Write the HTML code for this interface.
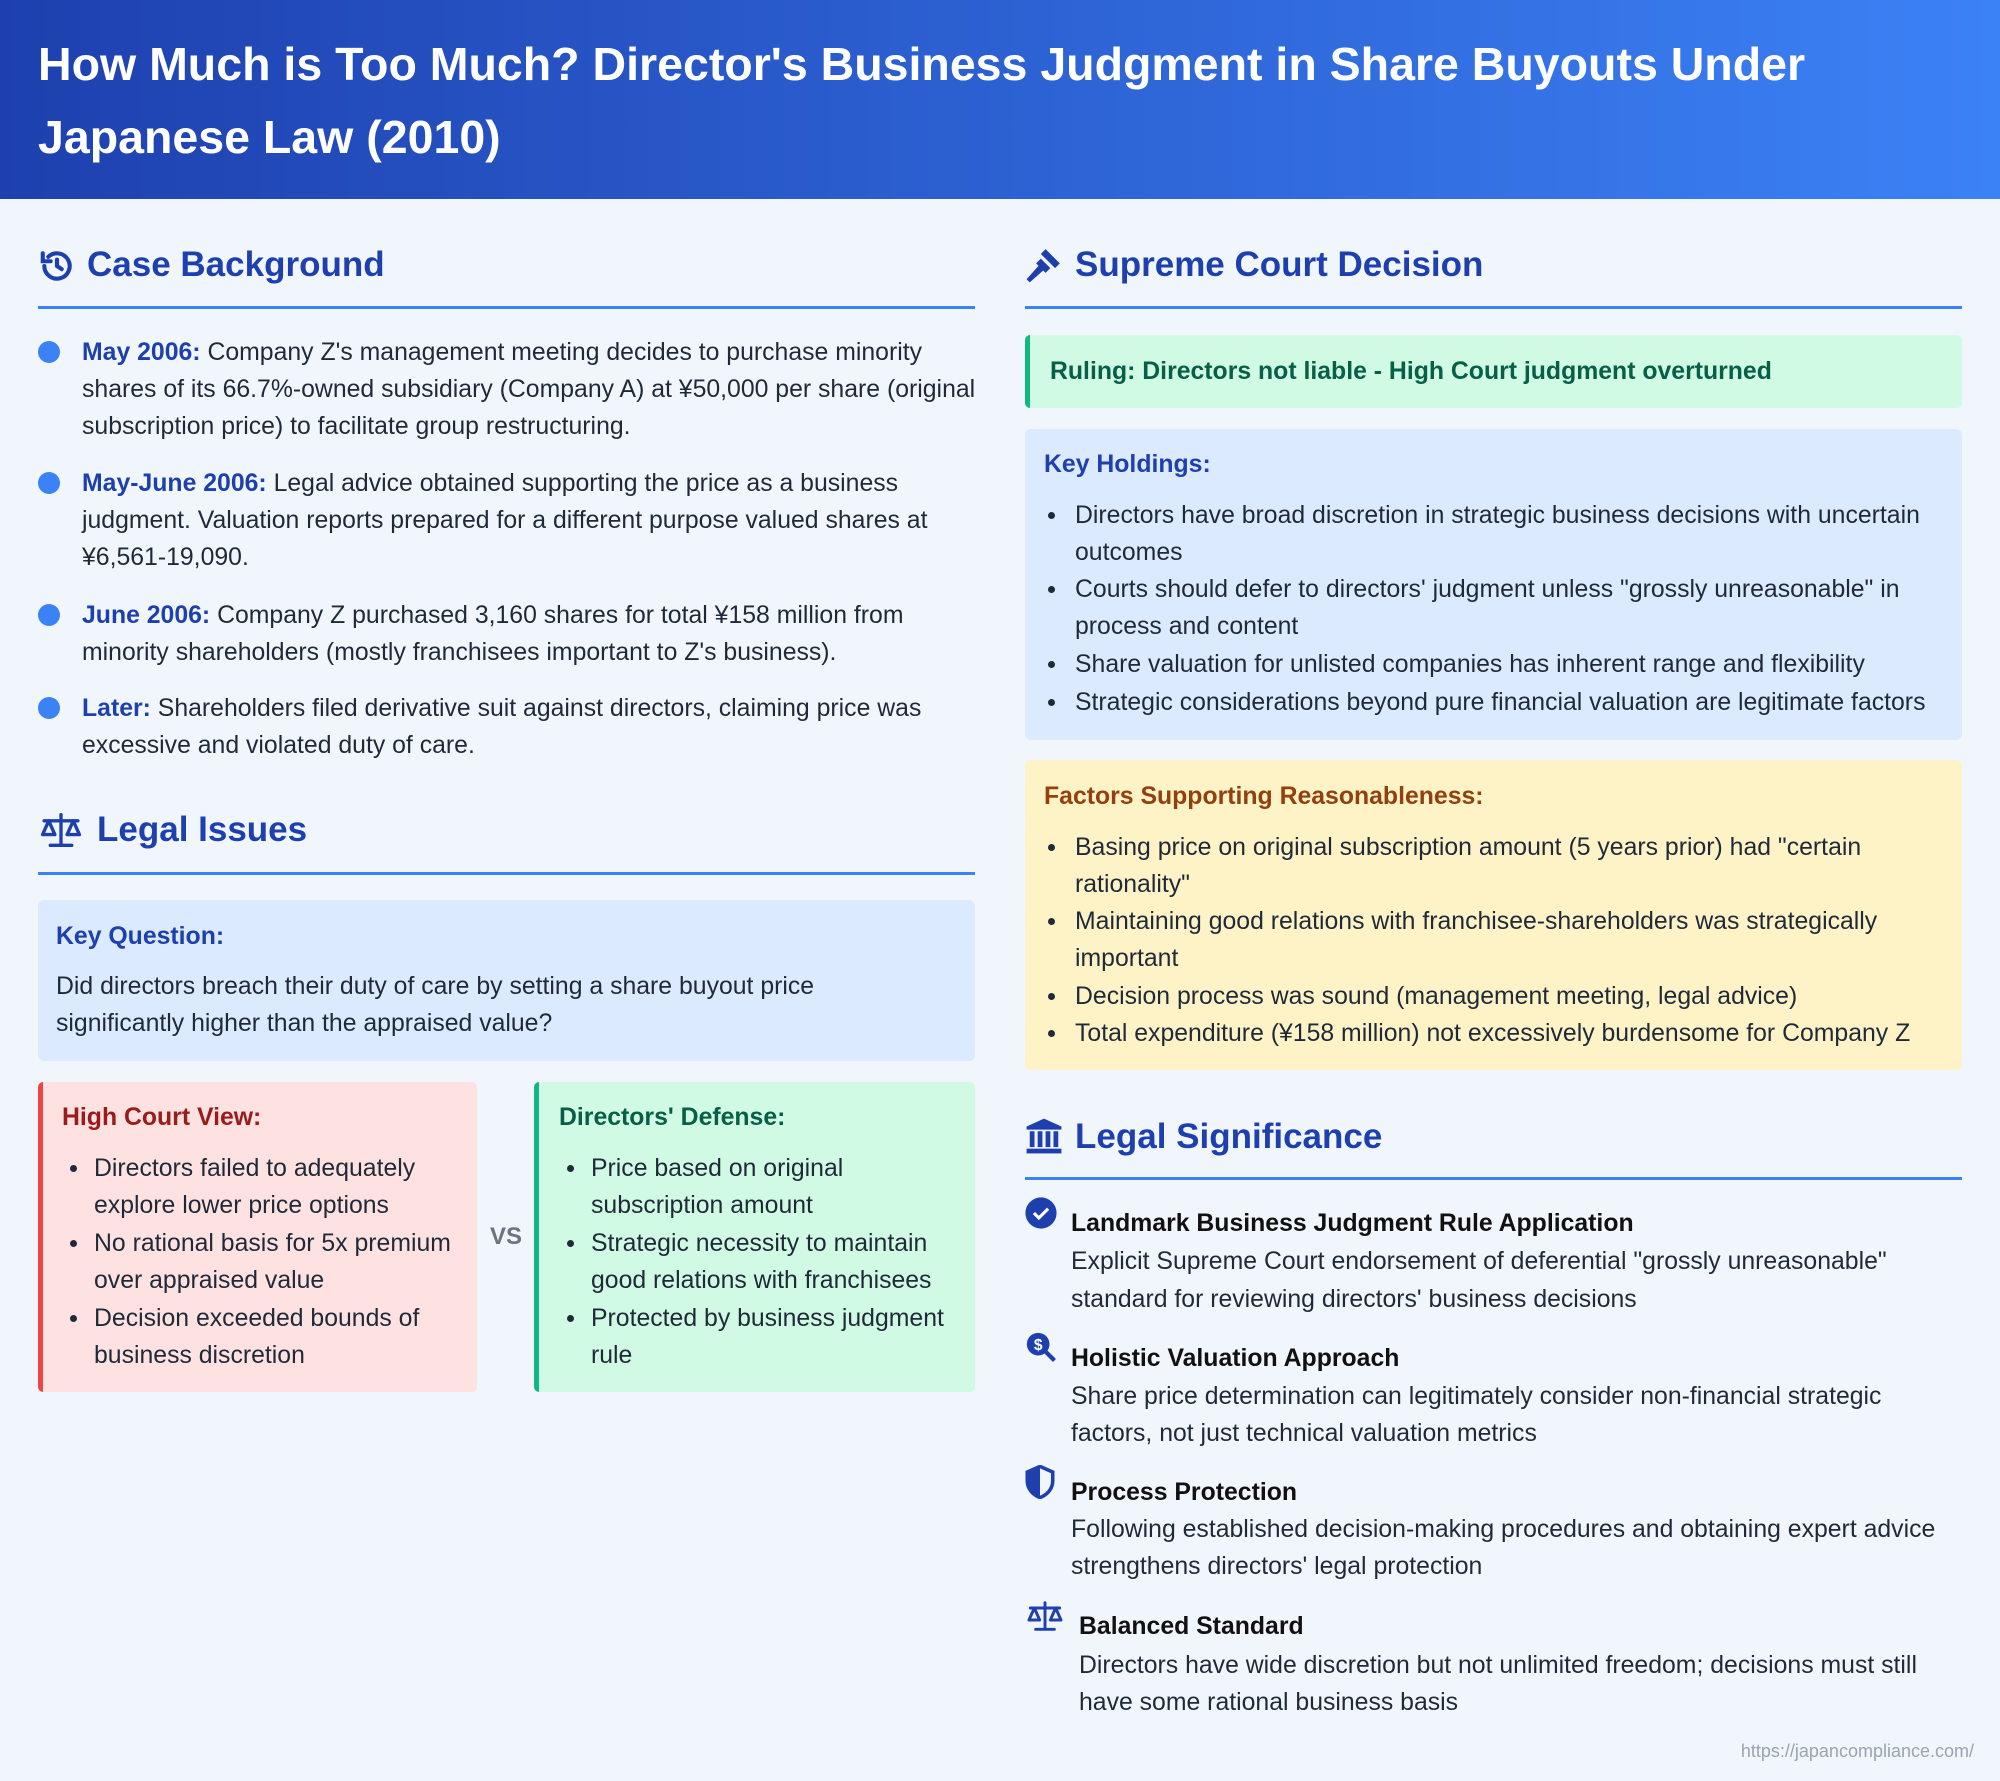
<!DOCTYPE html>
<html><head><meta charset="utf-8"><style>
*{margin:0;padding:0;box-sizing:border-box}
body{width:2000px;height:1781px;position:relative;background:#f0f6fc;font-family:"Liberation Sans",sans-serif;overflow:hidden;color:#1f2937}
.a{position:absolute}
.t{position:absolute;white-space:nowrap;line-height:37px;font-size:24.8px;color:#1f2937}
.h{position:absolute;white-space:nowrap;font-size:35px;font-weight:bold;color:#1e40af;line-height:44px}
.rule{position:absolute;height:3px;background:#3b82f6}
.b{font-weight:bold;color:#1e40af}
.dot{position:absolute;width:22px;height:22px;border-radius:50%;background:#3b82f6}
.li{position:absolute;width:7px;height:7px;border-radius:50%;background:#1f2937}
</style></head><body>
<div class="a" style="left:0;top:0;width:2000px;height:199px;background:linear-gradient(90deg,#1e40af,#3b82f6)"></div>
<div class="a" style="left:38px;top:28px;color:#fff;font-size:46.5px;font-weight:bold;line-height:73px;white-space:nowrap">How Much is Too Much? Director's Business Judgment in Share Buyouts Under<br>Japanese Law (2010)</div>

<!-- Case Background -->
<svg class="a" style="left:38px;top:247px" width="38" height="38" viewBox="0 0 24 24" fill="none" stroke="#1e40af" stroke-width="2.6" stroke-linecap="round"><path d="M4 12a8 8 0 1 0 2.5-5.8"/><path d="M3 4v5h5"/><path d="M12 8v4l3 2"/></svg>
<div class="h" style="left:87px;top:243px">Case Background</div>
<div class="rule" style="left:38px;top:306px;width:937px"></div>

<div class="dot" style="left:38px;top:341px"></div>
<div class="t" style="left:82px;top:334px"><span class="b">May 2006:</span> Company Z's management meeting decides to purchase minority</div>
<div class="t" style="left:82px;top:371px">shares of its 66.7%-owned subsidiary (Company A) at ¥50,000 per share (original</div>
<div class="t" style="left:82px;top:408px">subscription price) to facilitate group restructuring.</div>
<div class="dot" style="left:38px;top:472px"></div>
<div class="t" style="left:82px;top:465px"><span class="b">May-June 2006:</span> Legal advice obtained supporting the price as a business</div>
<div class="t" style="left:82px;top:502px">judgment. Valuation reports prepared for a different purpose valued shares at</div>
<div class="t" style="left:82px;top:539px">¥6,561-19,090.</div>
<div class="dot" style="left:38px;top:604px"></div>
<div class="t" style="left:82px;top:597px"><span class="b">June 2006:</span> Company Z purchased 3,160 shares for total ¥158 million from</div>
<div class="t" style="left:82px;top:634px">minority shareholders (mostly franchisees important to Z's business).</div>
<div class="dot" style="left:38px;top:697px"></div>
<div class="t" style="left:82px;top:690px"><span class="b">Later:</span> Shareholders filed derivative suit against directors, claiming price was</div>
<div class="t" style="left:82px;top:727px">excessive and violated duty of care.</div>

<!-- Legal Issues -->
<svg class="a" style="left:38px;top:811px" width="46" height="38" viewBox="0 0 30 24" fill="none" stroke="#1e40af" stroke-width="2.2" stroke-linecap="round" stroke-linejoin="round"><path d="M15 2v20M8 22h14M4 6h22"/><path d="M7 6l-4 9h8z M23 6l-4 9h8z"/></svg>
<div class="h" style="left:97px;top:808px">Legal Issues</div>
<div class="rule" style="left:38px;top:872px;width:937px"></div>

<div class="a" style="left:38px;top:900px;width:937px;height:161px;background:#dbeafe;border-radius:6px"></div>
<div class="t" style="left:56px;top:918px;font-weight:bold;color:#1e40af">Key Question:</div>
<div class="t" style="left:56px;top:968px">Did directors breach their duty of care by setting a share buyout price</div>
<div class="t" style="left:56px;top:1005px">significantly higher than the appraised value?</div>

<div class="a" style="left:38px;top:1082px;width:439px;height:310px;background:#fee2e2;border-left:5px solid #ef4444;border-radius:5px"></div>
<div class="t" style="left:62px;top:1099px;font-weight:bold;color:#991b1b">High Court View:</div>
<div class="li" style="left:70px;top:1165px"></div><div class="t" style="left:94px;top:1150px">Directors failed to adequately</div>
<div class="t" style="left:94px;top:1187px">explore lower price options</div>
<div class="li" style="left:70px;top:1240px"></div><div class="t" style="left:94px;top:1225px">No rational basis for 5x premium</div>
<div class="t" style="left:94px;top:1262px">over appraised value</div>
<div class="li" style="left:70px;top:1315px"></div><div class="t" style="left:94px;top:1300px">Decision exceeded bounds of</div>
<div class="t" style="left:94px;top:1337px">business discretion</div>

<div class="t" style="left:490px;top:1218px;font-weight:bold;color:#6b7280;font-size:24px">VS</div>

<div class="a" style="left:534px;top:1082px;width:441px;height:310px;background:#d1fae5;border-left:5px solid #10b981;border-radius:5px"></div>
<div class="t" style="left:559px;top:1099px;font-weight:bold;color:#065f46">Directors' Defense:</div>
<div class="li" style="left:567px;top:1165px"></div><div class="t" style="left:591px;top:1150px">Price based on original</div>
<div class="t" style="left:591px;top:1187px">subscription amount</div>
<div class="li" style="left:567px;top:1240px"></div><div class="t" style="left:591px;top:1225px">Strategic necessity to maintain</div>
<div class="t" style="left:591px;top:1262px">good relations with franchisees</div>
<div class="li" style="left:567px;top:1315px"></div><div class="t" style="left:591px;top:1300px">Protected by business judgment</div>
<div class="t" style="left:591px;top:1337px">rule</div>

<!-- Supreme Court -->
<svg class="a" style="left:1025px;top:246px" width="38" height="38" viewBox="0 0 24 24" fill="#1e40af"><path d="M13 2l9 9-3 3-9-9z"/><path d="M10 8l6 6-3 3-6-6z" /><path d="M9 12l3 3-9 8-2-2z"/></svg>
<div class="h" style="left:1075px;top:243px">Supreme Court Decision</div>
<div class="rule" style="left:1025px;top:306px;width:937px"></div>

<div class="a" style="left:1025px;top:335px;width:937px;height:73px;background:#d1fae5;border-left:5px solid #10b981;border-radius:5px"></div>
<div class="t" style="left:1050px;top:353px;font-weight:bold;color:#065f46">Ruling: Directors not liable - High Court judgment overturned</div>

<div class="a" style="left:1025px;top:429px;width:937px;height:311px;background:#dbeafe;border-radius:6px"></div>
<div class="t" style="left:1044px;top:446px;font-weight:bold;color:#1e40af">Key Holdings:</div>
<div class="li" style="left:1048px;top:512px"></div><div class="t" style="left:1075px;top:497px">Directors have broad discretion in strategic business decisions with uncertain</div>
<div class="t" style="left:1075px;top:534px">outcomes</div>
<div class="li" style="left:1048px;top:586px"></div><div class="t" style="left:1075px;top:571px">Courts should defer to directors' judgment unless "grossly unreasonable" in</div>
<div class="t" style="left:1075px;top:608px">process and content</div>
<div class="li" style="left:1048px;top:661px"></div><div class="t" style="left:1075px;top:646px">Share valuation for unlisted companies has inherent range and flexibility</div>
<div class="li" style="left:1048px;top:699px"></div><div class="t" style="left:1075px;top:684px">Strategic considerations beyond pure financial valuation are legitimate factors</div>

<div class="a" style="left:1025px;top:760px;width:937px;height:310px;background:#fef3c7;border-radius:6px"></div>
<div class="t" style="left:1044px;top:778px;font-weight:bold;color:#92400e">Factors Supporting Reasonableness:</div>
<div class="li" style="left:1048px;top:844px"></div><div class="t" style="left:1075px;top:829px">Basing price on original subscription amount (5 years prior) had "certain</div>
<div class="t" style="left:1075px;top:866px">rationality"</div>
<div class="li" style="left:1048px;top:918px"></div><div class="t" style="left:1075px;top:903px">Maintaining good relations with franchisee-shareholders was strategically</div>
<div class="t" style="left:1075px;top:940px">important</div>
<div class="li" style="left:1048px;top:993px"></div><div class="t" style="left:1075px;top:978px">Decision process was sound (management meeting, legal advice)</div>
<div class="li" style="left:1048px;top:1030px"></div><div class="t" style="left:1075px;top:1015px">Total expenditure (¥158 million) not excessively burdensome for Company Z</div>

<!-- Legal Significance -->
<svg class="a" style="left:1025px;top:1117px" width="38" height="38" viewBox="0 0 24 24" fill="#1e40af"><path d="M12 1L1 6v2h22V6z"/><rect x="3" y="9" width="3" height="10"/><rect x="8" y="9" width="3" height="10"/><rect x="13" y="9" width="3" height="10"/><rect x="18" y="9" width="3" height="10"/><rect x="1" y="20" width="22" height="3"/></svg>
<div class="h" style="left:1075px;top:1115px">Legal Significance</div>
<div class="rule" style="left:1025px;top:1177px;width:937px"></div>

<svg class="a" style="left:1024px;top:1196px" width="34" height="34" viewBox="0 0 24 24"><circle cx="12" cy="12" r="11" fill="#1e40af"/><path d="M7 12l3.5 3.5L17 9" stroke="#fff" stroke-width="2.2" fill="none"/></svg>
<div class="t" style="left:1071px;top:1205px;font-weight:bold;color:#111">Landmark Business Judgment Rule Application</div>
<div class="t" style="left:1071px;top:1243px">Explicit Supreme Court endorsement of deferential "grossly unreasonable"</div>
<div class="t" style="left:1071px;top:1281px">standard for reviewing directors' business decisions</div>

<svg class="a" style="left:1024px;top:1330px" width="34" height="34" viewBox="0 0 24 24"><circle cx="10" cy="10" r="8" fill="#1e40af"/><text x="10" y="14" font-size="11" fill="#fff" text-anchor="middle" font-family="Liberation Sans" font-weight="bold">$</text><path d="M15.5 15.5l6 6" stroke="#1e40af" stroke-width="3"/></svg>
<div class="t" style="left:1071px;top:1340px;font-weight:bold;color:#111">Holistic Valuation Approach</div>
<div class="t" style="left:1071px;top:1378px">Share price determination can legitimately consider non-financial strategic</div>
<div class="t" style="left:1071px;top:1415px">factors, not just technical valuation metrics</div>

<svg class="a" style="left:1025px;top:1465px" width="30" height="34" viewBox="0 0 20 24"><path d="M10 1L1 5v6c0 6 4 10 9 12 5-2 9-6 9-12V5z" fill="none" stroke="#1e40af" stroke-width="2.5"/><path d="M10 1L1 5v6c0 6 4 10 9 12z" fill="#1e40af"/></svg>
<div class="t" style="left:1071px;top:1474px;font-weight:bold;color:#111">Process Protection</div>
<div class="t" style="left:1071px;top:1511px">Following established decision-making procedures and obtaining expert advice</div>
<div class="t" style="left:1071px;top:1548px">strengthens directors' legal protection</div>

<svg class="a" style="left:1025px;top:1599px" width="40" height="34" viewBox="0 0 30 24" fill="none" stroke="#1e40af" stroke-width="2.2" stroke-linecap="round" stroke-linejoin="round"><path d="M15 2v20M8 22h14M4 6h22"/><path d="M7 6l-4 9h8z M23 6l-4 9h8z"/></svg>
<div class="t" style="left:1079px;top:1608px;font-weight:bold;color:#111">Balanced Standard</div>
<div class="t" style="left:1079px;top:1647px">Directors have wide discretion but not unlimited freedom; decisions must still</div>
<div class="t" style="left:1079px;top:1684px">have some rational business basis</div>

<div class="t" style="right:26px;top:1738px;font-size:18px;line-height:26px;color:#9ca3af">https://japancompliance.com/</div>
</body></html>
